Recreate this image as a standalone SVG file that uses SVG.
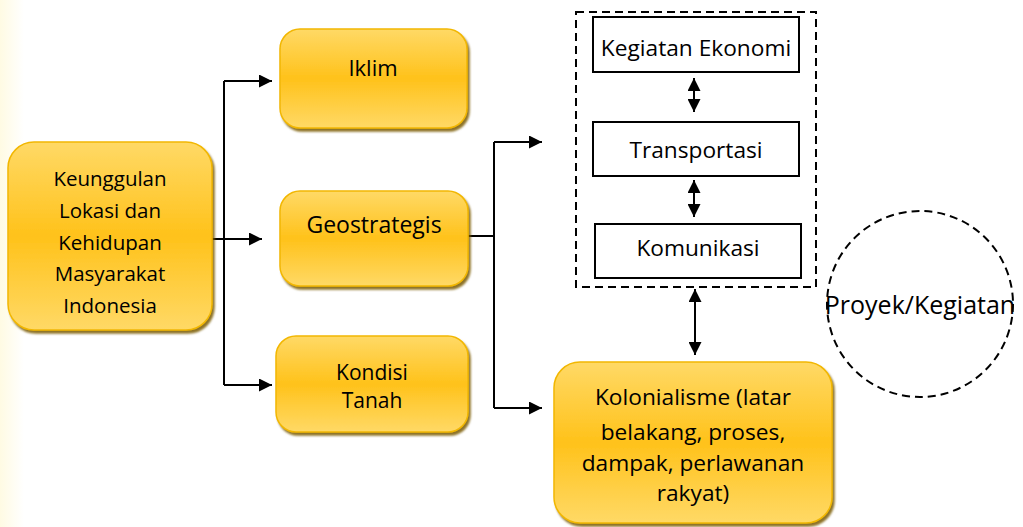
<svg xmlns="http://www.w3.org/2000/svg" width="1023" height="527" viewBox="0 0 1023 527">
<defs>
<linearGradient id="gold" x1="0" y1="0" x2="0" y2="1">
<stop offset="0" stop-color="#FFD966"/>
<stop offset="0.5" stop-color="#FFC21A"/>
<stop offset="1" stop-color="#FFD966"/>
</linearGradient>
<linearGradient id="edge" x1="0" y1="0" x2="1" y2="0">
<stop offset="0" stop-color="#FFFBE3"/>
<stop offset="1" stop-color="#FFFFFF"/>
</linearGradient>
<filter id="sh" x="-10%" y="-10%" width="130%" height="130%">
<feGaussianBlur in="SourceAlpha" stdDeviation="1.2"/>
<feOffset dx="2" dy="3" result="b"/>
<feFlood flood-color="#7A5A00" flood-opacity="0.85"/>
<feComposite in2="b" operator="in"/>
<feMerge><feMergeNode/><feMergeNode in="SourceGraphic"/></feMerge>
</filter>
<marker id="ah" viewBox="0 0 10 10" refX="10" refY="5" markerWidth="14" markerHeight="13" markerUnits="userSpaceOnUse" orient="auto-start-reverse">
<path d="M0,0 L10,5 L0,10 z" fill="#000"/>
</marker>
</defs>
<style>
.gnode{fill:url(#gold);stroke:#F2B705;stroke-width:1.5;filter:url(#sh)}
.box{fill:#fff;stroke:#000;stroke-width:2}
.t{font-family:"Open Sans","Noto Sans","DejaVu Sans",sans-serif;font-weight:400;font-size:22.7px;fill:#000;text-anchor:middle}
.ln{fill:none;stroke:#000;stroke-width:2}
.arr{fill:none;stroke:#000;stroke-width:2;marker-end:url(#ah)}
.darr{fill:none;stroke:#000;stroke-width:2;marker-end:url(#ah);marker-start:url(#ah)}
.dash{fill:none;stroke:#000;stroke-width:2;stroke-dasharray:8 5}
</style>
<rect x="0" y="0" width="1023" height="527" fill="#fff"/>
<rect x="0" y="0" width="24" height="527" fill="url(#edge)"/>

<g id="connectors">
<path class="ln" d="M224,81 V385"/>
<path class="arr" d="M224,81 H272"/>
<path class="arr" d="M212,239 H262"/>
<path class="arr" d="M224,385 H272"/>
<path class="ln" d="M468,236 H494"/>
<path class="ln" d="M494,142 V408"/>
<path class="arr" d="M494,142 H542"/>
<path class="arr" d="M494,408 H542"/>
<path class="darr" d="M694,78 V112"/>
<path class="darr" d="M694,180 V217"/>
<path class="darr" d="M695,289 V355"/>
</g>

<g id="node-main">
<rect class="gnode" x="8" y="142" width="204" height="188" rx="26"/>
<text class="t" x="110" y="186" style="font-size:20.5px">Keunggulan</text>
<text class="t" x="110" y="218" style="font-size:20.5px">Lokasi dan</text>
<text class="t" x="110" y="250" style="font-size:20.5px">Kehidupan</text>
<text class="t" x="110" y="281" style="font-size:20.5px">Masyarakat</text>
<text class="t" x="110" y="313" style="font-size:20.5px">Indonesia</text>
</g>

<g id="node-iklim">
<rect class="gnode" x="280" y="29" width="187" height="99" rx="20"/>
<text class="t" x="373" y="76" style="font-size:22px">Iklim</text>
</g>

<g id="node-geostrategis">
<rect class="gnode" x="280" y="191" width="188" height="95" rx="20"/>
<text class="t" x="374" y="233" style="font-size:23px">Geostrategis</text>
</g>

<g id="node-kondisi">
<rect class="gnode" x="276" y="336" width="192" height="96" rx="20"/>
<text class="t" x="372" y="380" style="font-size:21px">Kondisi</text>
<text class="t" x="372" y="408" style="font-size:21px">Tanah</text>
</g>

<g id="node-kolonialisme">
<rect class="gnode" x="554" y="362" width="278" height="161" rx="26"/>
<text class="t" x="693" y="405">Kolonialisme (latar</text>
<text class="t" x="693" y="440">belakang, proses,</text>
<text class="t" x="693" y="471">dampak, perlawanan</text>
<text class="t" x="693" y="501">rakyat)</text>
</g>

<g id="group-dashed">
<rect class="dash" x="576" y="12" width="240" height="275"/>
</g>

<g id="node-ekonomi">
<rect class="box" x="593" y="17" width="206" height="55"/>
<text class="t" x="696" y="56">Kegiatan Ekonomi</text>
</g>

<g id="node-transportasi">
<rect class="box" x="593" y="122" width="206" height="54"/>
<text class="t" x="696" y="158">Transportasi</text>
</g>

<g id="node-komunikasi">
<rect class="box" x="595" y="224" width="206" height="54"/>
<text class="t" x="698" y="256">Komunikasi</text>
</g>

<g id="node-proyek">
<circle class="dash" cx="920" cy="304" r="93"/>
<text class="t" x="920" y="314" style="font-size:25px">Proyek/Kegiatan</text>
</g>
</svg>
